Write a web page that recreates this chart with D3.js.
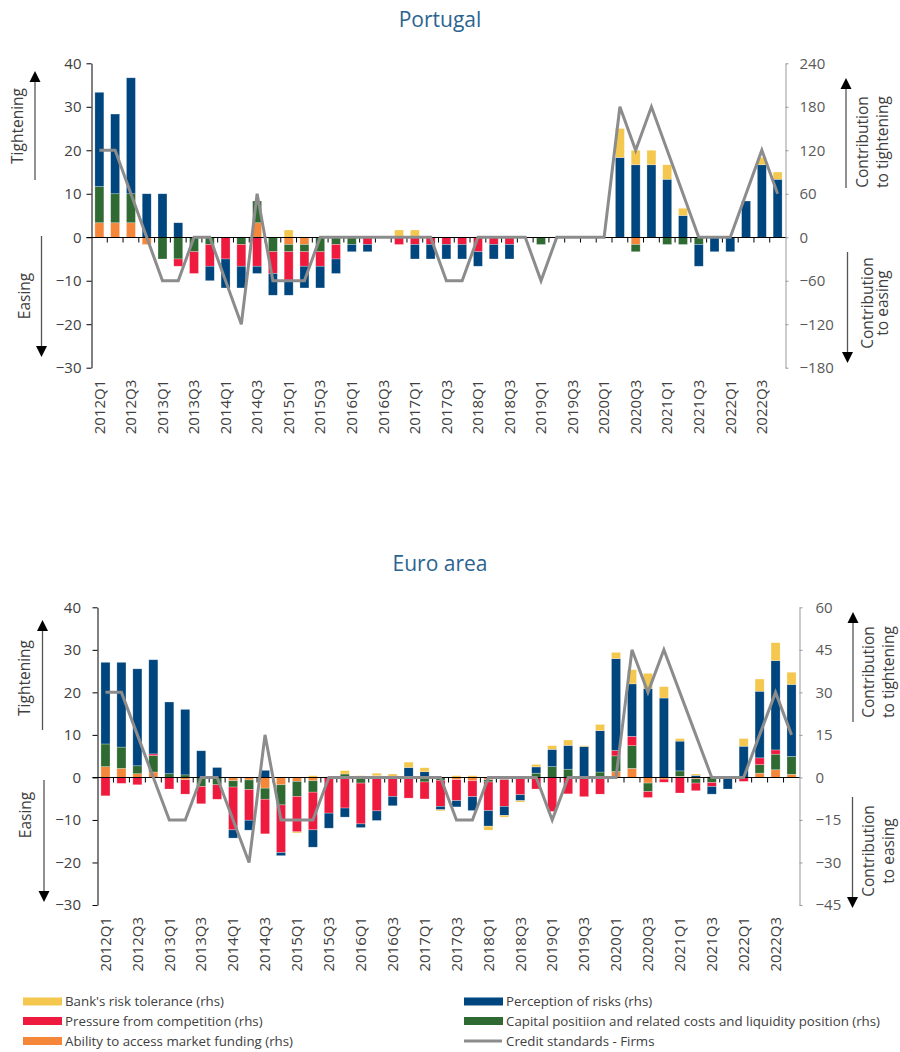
<!DOCTYPE html>
<html>
<head>
<meta charset="utf-8">
<script src="https://cdn.jsdelivr.net/npm/d3@7"></script>
<style>
  body { margin: 0; background: #fff; }
  svg { display: block; font-family: "Open Sans", sans-serif; }
</style>
</head>
<body>
<svg id="chart" width="900" height="1052"></svg>
<script>
// categories
var quarters = [
  "2012Q1","2012Q2","2012Q3","2012Q4","2013Q1","2013Q2","2013Q3","2013Q4",
  "2014Q1","2014Q2","2014Q3","2014Q4","2015Q1","2015Q2","2015Q3","2015Q4",
  "2016Q1","2016Q2","2016Q3","2016Q4","2017Q1","2017Q2","2017Q3","2017Q4",
  "2018Q1","2018Q2","2018Q3","2018Q4","2019Q1","2019Q2","2019Q3","2019Q4",
  "2020Q1","2020Q2","2020Q3","2020Q4","2021Q1","2021Q2","2021Q3","2021Q4",
  "2022Q1","2022Q2","2022Q3","2022Q4"
];

// tick labels
var leftTicks = [-30, -20, -10, 0, 10, 20, 30, 40];
var ptRightTicks = [-180, -120, -60, 0, 60, 120, 180, 240];
var eaRightTicks = [-45, -30, -15, 0, 15, 30, 45, 60];

// Portugal (bars on rhs, line on lhs) - one row per year
var ptFunding = [
  20, 20, 20, -10,   0, 0, 0, 0,   0, 0, 20, 0,   -10, -10, 0, 0,
  0, 0, 0, 0,   0, 0, 0, 0,   0, 0, 0, 0,   0, 0, 0, 0,
  0, 0, -10, 0,   0, 0, 0, 0,   0, 0, 0, 0
];
var ptCapital = [
  50, 40, 40, 0,   -30, -30, -20, -10,   0, -10, 30, -20,   -10, -10, -20, -10,
  -10, 0, 0, 0,   0, 0, 0, 0,   0, 0, 0, 0,   -10, 0, 0, 0,
  0, 0, -10, 0,   -10, -10, -10, 0,   0, 0, 0, 0
];
var ptCompetition = [
  0, 0, 0, 0,   0, -10, -30, -30,   -30, -30, -40, -30,   -40, -20, -20, -20,
  0, -10, 0, -10,   -10, -10, -10, -10,   -20, -10, -10, 0,   0, 0, 0, 0,
  0, 0, 0, 0,   0, 0, 0, 0,   0, 0, 0, 0
];
var ptRisk = [
  130, 110, 160, 60,   60, 20, 0, -20,   -40, -30, -10, -30,   -20, -30, -30, -20,
  -10, -10, 0, 0,   -20, -20, -20, -20,   -20, -20, -20, 0,   0, 0, 0, 0,
  0, 110, 100, 100,   80, 30, -30, -20,   -20, 50, 100, 80
];
var ptTolerance = [
  0, 0, 0, 0,   0, 0, 0, 0,   0, 0, 0, 0,   10, 0, 0, 0,
  0, 0, 0, 10,   10, 0, 0, 0,   0, 0, 0, 0,   0, 0, 0, 0,
  0, 40, 20, 20,   20, 10, 0, 0,   0, 0, 10, 10
];
var ptCredit = [
  20, 20, 10, 0,   -10, -10, 0, 0,   -10, -20, 10, -10,   -10, -10, 0, 0,
  0, 0, 0, 0,   0, 0, -10, -10,   0, 0, 0, 0,   -10, 0, 0, 0,
  0, 30, 20, 30,   20, 10, 0, 0,   0, 10, 20, 10
];

// Euro area
var eaFunding = [
  3.8, 3.2, 1.3, 1.9,   0, -0.8, 0, 0,   -1.2, -0.9, -3.8, -2.6,   -1.4, -1.2, 0, 0,
  0, 0, 0, 0,   0, 0, -0.8, -1.2,   -0.8, 0, 0, 0,   0, 0, 0, 0,
  2.1, 3.2, -2, -0.6,   0.4, -0.5, 0.3, 0,   0, 1.5, 2.7, 1.1
];
var eaCapital = [
  8, 7.5, 2.8, 5.8,   1.3, 0.9, -3.2, -2.6,   -2.2, -3.4, -3.9, -7.1,   -5.3, -4, 0, 1.2,
  -2, 0.6, 0.4, 0,   -1.6, -1, 0, 0,   -0.8, -0.8, 0, 1.5,   3.8, 2.9, 0, 1.9,
  5.5, 8, -3, 0,   1.9, -1.5, -1.8, 0,   0, 3, 5.5, 6.3
];
var eaCompetition = [
  -6.5, -2.1, -2.6, 0.6,   -4.1, -5.1, -6.1, -5.1,   -15.1, -10.8, -12.2, -16.8,   -12.5, -13.3, -12.6, -10.8,
  -14.4, -11.8, -6.7, -7.3,   -6, -9.2, -7.4, -5.6,   -10.1, -9.4, -6.1, -4.1,   -12, -5.8, -6.8, -5.9,
  1.9, 3.3, -2.1, -1.1,   -5.5, -2.7, -1.4, 0,   -1.4, 2.4, 1.5, 0
];
var eaRisk = [
  28.8, 29.9, 34.2, 33.2,   25.3, 23.1, 9.4, 3.5,   -2.9, -3.5, 2.5, -1.1,   0, -6.1, -5.3, -3.2,
  -1.3, -3.4, -3.3, 3.5,   2, -1.2, -2.2, -4.9,   -5.5, -3.2, -2.1, 2.2,   6.1, 8.4, 10.9, 14.6,
  32.4, 18.5, 31.4, 28,   10.5, 0.7, -2.7, -4.1,   11, 23.5, 31.5, 25.4
];
var eaTolerance = [
  0, 0, 0, 0,   0, 0, 0, 0,   0, 0, 0, 0,   -0.4, 0.6, 0, 1.2,
  0.6, 0.9, 0.8, 1.9,   1.4, -0.4, 0.6, 0.6,   -1.4, -0.6, -0.5, 0.9,   1.3, 1.9, 0.3, 2.2,
  2.2, 5, 5.3, 4,   0.9, 0.5, 0, 0,   2.7, 4.3, 6.3, 4.3
];
var eaCredit = [
  20, 20, 10, 0,   -10, -10, 0, 0,   -10, -20, 10, -10,   -10, -10, 0, 0,
  0, 0, 0, 0,   0, 0, -10, -10,   0, 0, 0, 0,   -10, 0, 0, 0,
  0, 30, 20, 30,   20, 10, 0, 0,   0, 10, 20, 10
];

// stacking order from the zero line outwards
var keys = ["funding", "capital", "competition", "risk", "tolerance"];
var colors = {
  funding: "#F5873A",
  capital: "#2F6A33",
  competition: "#EE1B3F",
  risk: "#00467E",
  tolerance: "#F4C74F"
};
var lineColor = "#8C8C8C";
var textColor = "#404040";

var svg = d3.select("#chart");
svg.append("rect").attr("width", 900).attr("height", 1052).attr("fill", "#fff");

function arrow(g, x, y1, y2) {
  // line from y1 towards y2, black head at y2
  var dir = y2 < y1 ? -1 : 1;
  g.append("line")
    .attr("x1", x).attr("x2", x)
    .attr("y1", y1).attr("y2", y2 - dir * 10)
    .attr("stroke", "#555").attr("stroke-width", 1.3);
  g.append("path")
    .attr("d", "M" + (x - 5.5) + "," + (y2 - dir * 11) + "L" + (x + 5.5) + "," + (y2 - dir * 11) + "L" + x + "," + y2 + "Z")
    .attr("fill", "#000");
}

function vText(g, x, y, str) {
  g.append("text")
    .attr("transform", "translate(" + x + "," + y + ") rotate(-90)")
    .attr("text-anchor", "middle")
    .attr("font-size", 15.5)
    .attr("fill", textColor)
    .text(str);
}

function drawPanel(p) {
  var g = svg.append("g");

  var x = d3.scaleBand().domain(quarters)
    .range([p.left, p.right])
    .paddingInner(0.43).paddingOuter(0.215);
  var yL = d3.scaleLinear().domain([-30, 40]).range([p.bottom, p.top]);
  var yR = d3.scaleLinear().domain([p.rTicks[0], p.rTicks[p.rTicks.length - 1]]).range([p.bottom, p.top]);

  // table for the stack
  var rows = quarters.map(function(q, i) {
    return { q: q, funding: p.funding[i], capital: p.capital[i], competition: p.competition[i],
             risk: p.risk[i], tolerance: p.tolerance[i] };
  });
  var series = d3.stack().keys(keys).offset(d3.stackOffsetDiverging)(rows);

  // title
  g.append("text")
    .attr("x", 440).attr("y", p.titleY)
    .attr("text-anchor", "middle")
    .attr("font-size", 21)
    .attr("fill", "#2B6490")
    .text(p.title);

  // bars
  g.selectAll(".serie").data(series).enter().append("g")
    .attr("fill", function(s) { return colors[s.key]; })
    .selectAll("rect").data(function(s) { return s; }).enter().append("rect")
    .attr("x", function(d) { return x(d.data.q); })
    .attr("width", x.bandwidth())
    .attr("y", function(d) { return yR(d[1]); })
    .attr("height", function(d) { return Math.abs(yR(d[0]) - yR(d[1])); })
    .attr("stroke", "rgba(255,255,255,0.45)")
    .attr("stroke-width", 0.6);

  // left axis
  var axL = g.append("g")
    .attr("transform", "translate(" + p.left + ",0)")
    .call(d3.axisLeft(yL).tickValues(leftTicks).tickSize(5).tickSizeOuter(0).tickPadding(p.lPad));
  axL.select(".domain").attr("stroke", "#000");
  axL.selectAll(".tick line").attr("stroke", "#000");
  axL.selectAll("text").attr("font-size", 15).attr("fill", textColor).attr("font-family", "Open Sans");

  // right axis
  var axR = g.append("g")
    .attr("transform", "translate(" + p.right + ",0)")
    .call(d3.axisRight(yR).tickValues(p.rTicks).tickSize(3).tickSizeOuter(0).tickPadding(p.rPad));
  axR.select(".domain").attr("stroke", "#999");
  axR.selectAll(".tick line").attr("stroke", "#999");
  axR.selectAll("text").attr("font-size", 15).attr("fill", "#595959").attr("font-family", "Open Sans");

  // zero line and category ticks
  var y0 = Math.round(yL(0)) + 0.5;
  g.append("line")
    .attr("x1", p.left - 5).attr("x2", p.right)
    .attr("y1", y0).attr("y2", y0)
    .attr("stroke", "#000").attr("stroke-width", 1);
  var half = x.step() * x.paddingInner() / 2;
  g.selectAll(".xtick").data(quarters.slice(1)).enter().append("line")
    .attr("x1", function(q) { return x(q) - half; })
    .attr("x2", function(q) { return x(q) - half; })
    .attr("y1", y0).attr("y2", y0 + 5)
    .attr("stroke", "#000").attr("stroke-width", 1);

  // x labels, every second quarter
  g.selectAll(".xlab").data(quarters.filter(function(q, i) { return i % 2 === 0; }))
    .enter().append("text")
    .attr("transform", function(q) {
      return "translate(" + (x(q) + x.bandwidth() / 2) + "," + (p.bottom + p.labelGap) + ") rotate(-90)";
    })
    .attr("text-anchor", "end")
    .attr("dy", "0.35em")
    .attr("font-size", 15)
    .attr("fill", textColor)
    .text(function(q) { return q; });

  // credit standards line
  var line = d3.line()
    .x(function(d, i) { return x(quarters[i]) + x.bandwidth() / 2; })
    .y(function(d) { return yL(d); });
  g.append("path")
    .attr("d", line(p.credit))
    .attr("fill", "none")
    .attr("stroke", lineColor)
    .attr("stroke-width", 3)
    .attr("stroke-linejoin", "miter");

  // axis titles with arrows
  var a = p.ann;
  vText(g, a.tightX, a.tightY, "Tightening");
  arrow(g, a.lArrowX, a.lUp[0], a.lUp[1]);
  vText(g, a.easeX, a.easeY, "Easing");
  arrow(g, a.lArrowX2, a.lDown[0], a.lDown[1]);

  vText(g, a.cX1, a.cTopY, "Contribution");
  vText(g, a.cX2, a.cTopY, "to tightening");
  arrow(g, a.rArrowX, a.rUp[0], a.rUp[1]);
  vText(g, a.cX1b, a.cBotY, "Contribution");
  vText(g, a.cX2, a.cBotY, "to easing");
  arrow(g, a.rArrowX2, a.rDown[0], a.rDown[1]);
}

drawPanel({
  title: "Portugal", titleY: 27,
  left: 91.5, right: 785.5, top: 63.3, bottom: 367.7,
  rTicks: ptRightTicks, lPad: 5, rPad: 11,
  labelGap: 12,
  funding: ptFunding, capital: ptCapital, competition: ptCompetition,
  risk: ptRisk, tolerance: ptTolerance, credit: ptCredit,
  ann: {
    tightX: 23, tightY: 126, lArrowX: 35, lUp: [180, 71],
    easeX: 30, easeY: 296, lArrowX2: 41.5, lDown: [236, 357],
    cX1: 868, cX1b: 873, cX2: 888, cTopY: 142, cBotY: 303,
    rArrowX: 846, rUp: [188, 78], rArrowX2: 847.5, rDown: [252, 363]
  }
});

drawPanel({
  title: "Euro area", titleY: 571,
  left: 97.5, right: 799.5, top: 607.3, bottom: 905,
  rTicks: eaRightTicks, lPad: 11.5, rPad: 13,
  labelGap: 12,
  funding: eaFunding, capital: eaCapital, competition: eaCompetition,
  risk: eaRisk, tolerance: eaTolerance, credit: eaCredit,
  ann: {
    tightX: 30, tightY: 678, lArrowX: 42.5, lUp: [730, 620],
    easeX: 31, easeY: 815, lArrowX2: 44, lDown: [780, 902],
    cX1: 874, cX1b: 874, cX2: 894, cTopY: 672, cBotY: 851,
    rArrowX: 853, rUp: [722, 612], rArrowX2: 852.5, rDown: [797, 908]
  }
});

// legend
var legendItems = [
  { label: "Bank's risk tolerance (rhs)", color: colors.tolerance, x: 23, y: 1001.5 },
  { label: "Pressure from competition (rhs)", color: colors.competition, x: 23, y: 1021 },
  { label: "Ability to access market funding (rhs)", color: colors.funding, x: 23, y: 1041 },
  { label: "Perception of risks (rhs)", color: colors.risk, x: 464, y: 1001.5 },
  { label: "Capital positiion and related costs and liquidity position (rhs)", color: colors.capital, x: 464, y: 1021 },
  { label: "Credit standards - Firms", color: lineColor, x: 464, y: 1041, line: true }
];
var leg = svg.append("g");
legendItems.forEach(function(d) {
  if (d.line) {
    leg.append("line")
      .attr("x1", d.x).attr("x2", d.x + 38)
      .attr("y1", d.y).attr("y2", d.y)
      .attr("stroke", d.color).attr("stroke-width", 3);
  } else {
    leg.append("rect")
      .attr("x", d.x).attr("y", d.y - 4)
      .attr("width", 39).attr("height", 8)
      .attr("fill", d.color);
  }
  leg.append("text")
    .attr("x", d.x + 42).attr("y", d.y)
    .attr("dy", "0.35em")
    .attr("font-size", 13.3)
    .attr("fill", textColor)
    .text(d.label);
});
</script>
</body>
</html>
